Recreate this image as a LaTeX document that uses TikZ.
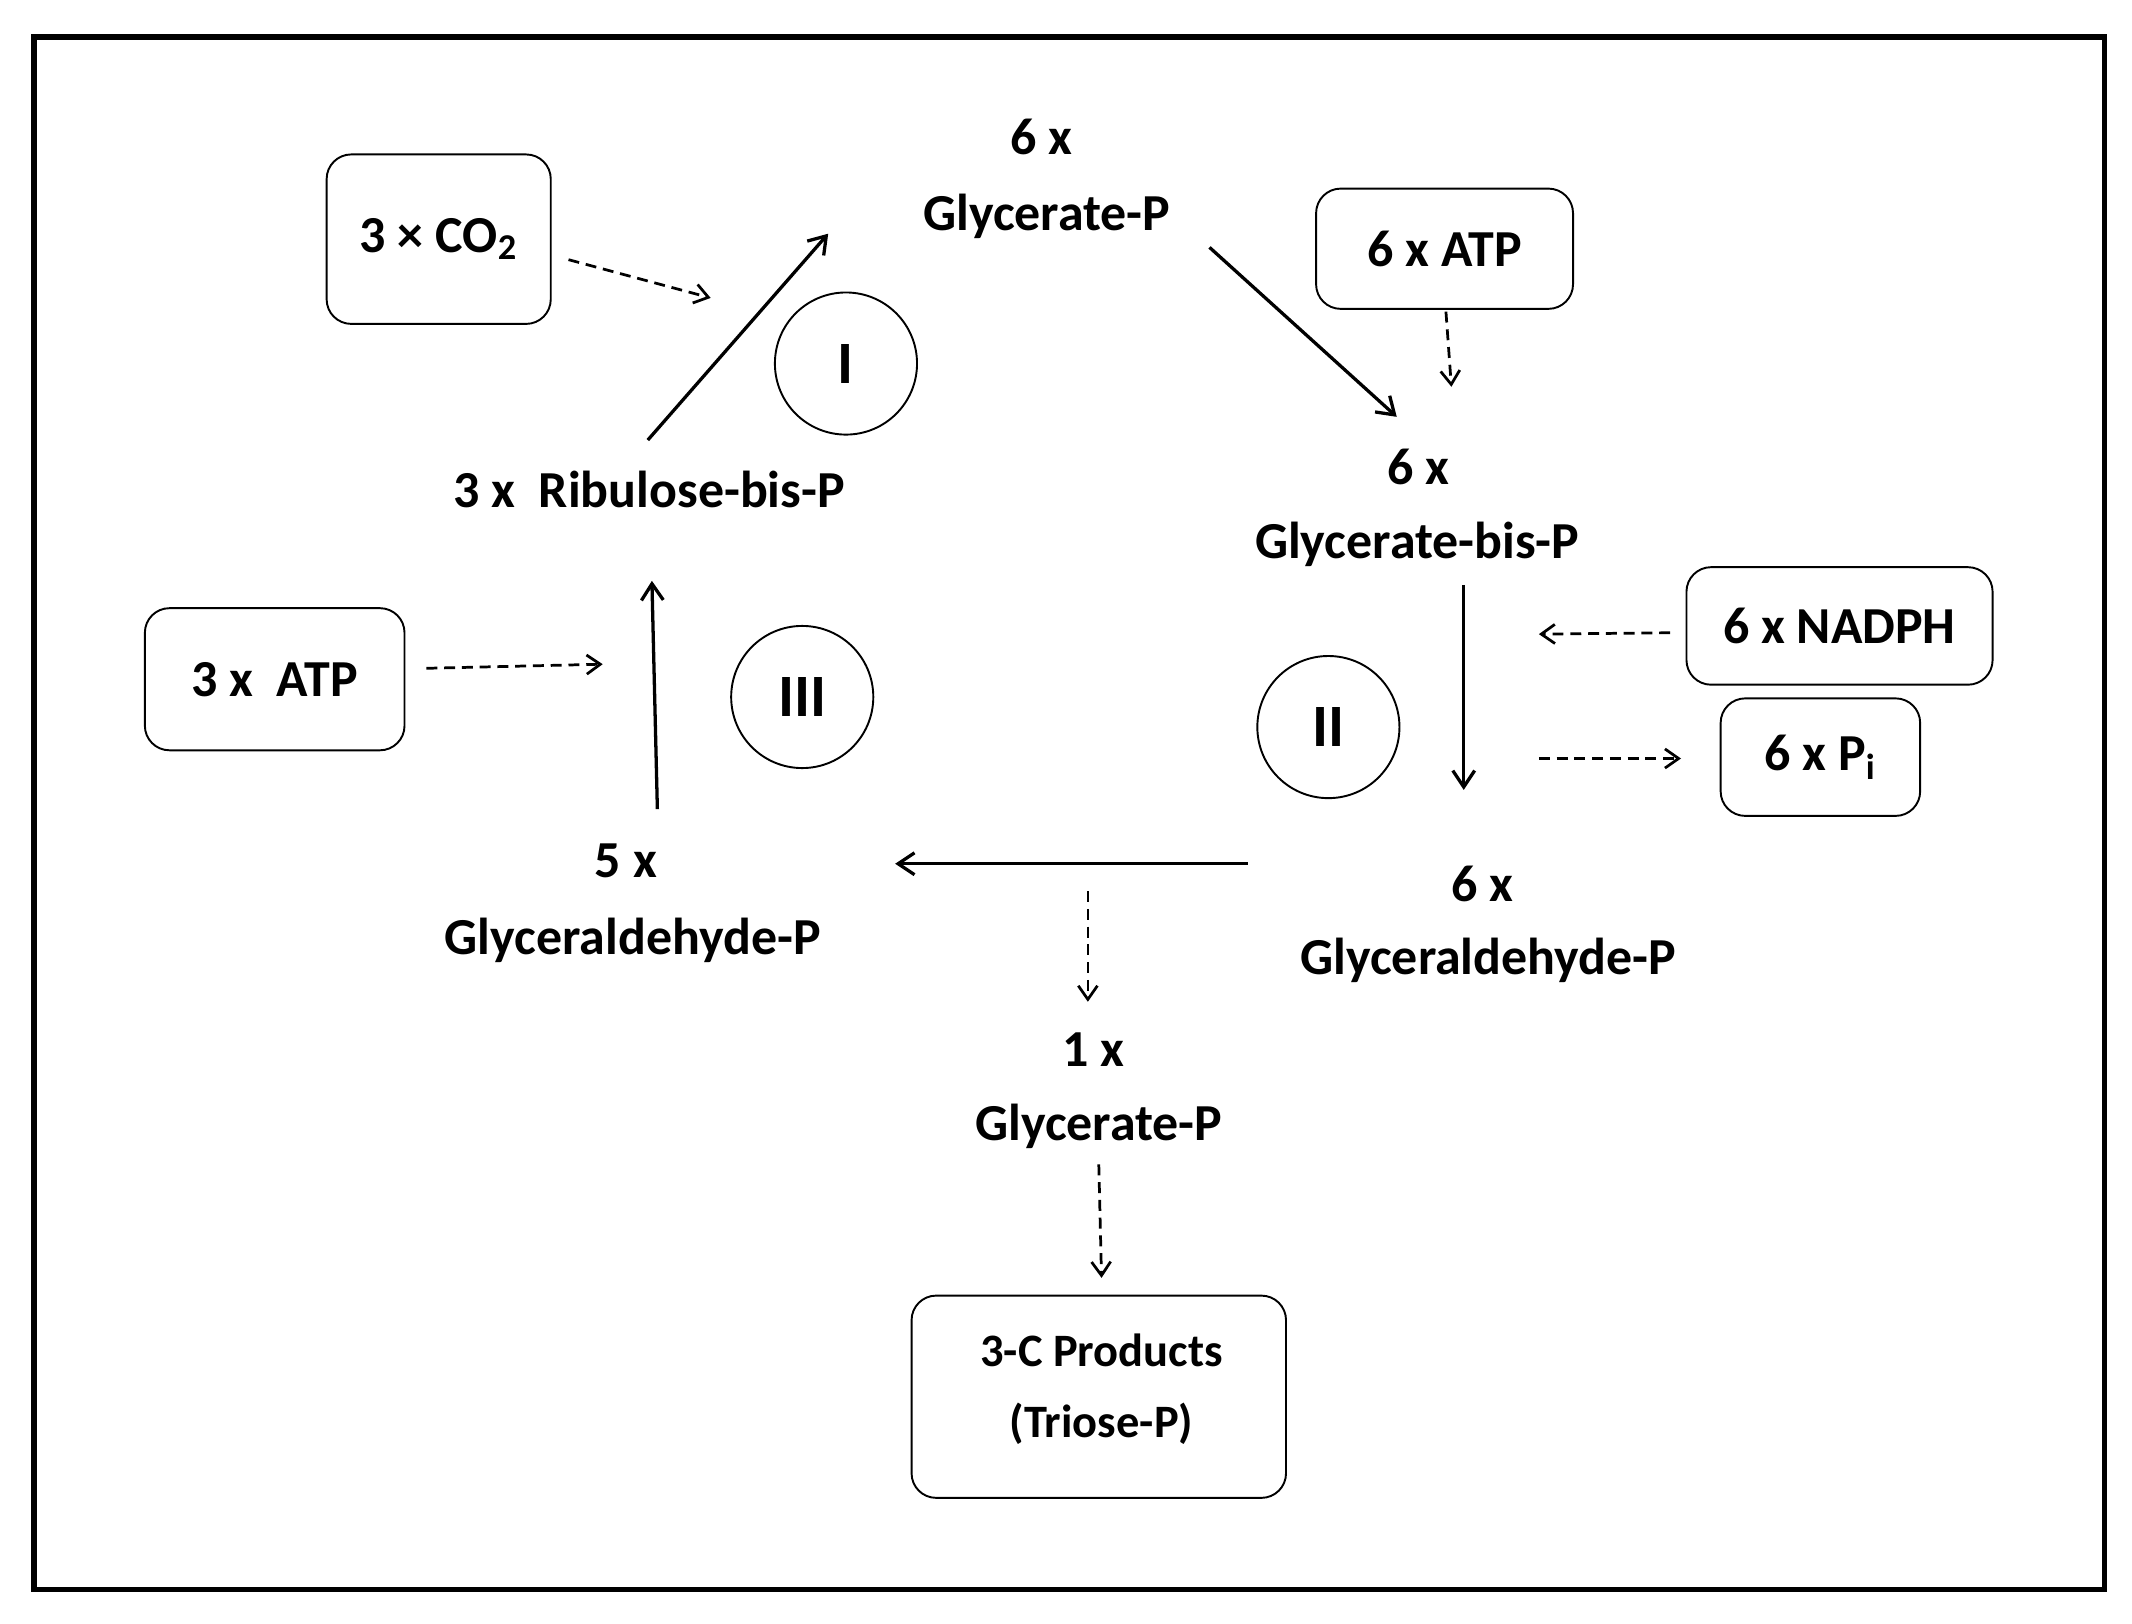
\documentclass[tikz,border=0pt]{standalone}
\usepackage{fontspec}
\setmainfont{Carlito}
\usetikzlibrary{arrows.meta}
\begin{document}
\begin{tikzpicture}[x=0.5pt,y=-0.5pt,
  lbl/.style={font=\fontsize{19}{22}\selectfont\bfseries,inner sep=0pt},
  box/.style={draw,rounded corners=9pt,line width=0.7pt,inner sep=0pt},
  circ/.style={draw,circle,line width=0.7pt,minimum size=52pt,inner sep=0pt,font=\fontsize{22}{24}\selectfont\bfseries},
  sol/.style={line width=1.2pt,-{Straight Barb[length=6pt,width=8pt]}},
  das/.style={line width=1pt,dashed,dash pattern=on 4pt off 2.5pt,-{Straight Barb[length=5pt,width=7pt]}}]
\useasboundingbox (0,0) rectangle (1560,1188);
\draw[line width=2pt] (25,27) rectangle (1540,1163);
% boxes
\node[box,minimum width=82pt,minimum height=62pt] (co2) at (321,175) {};
\node[lbl] at (321,175) {3 × CO\textsubscript{2}};
\node[box,minimum width=94pt,minimum height=44pt] (atp6) at (1057,182) {};
\node[lbl] at (1057,182) {6 x ATP};
\node[box,minimum width=112pt,minimum height=43pt] (nadph) at (1346,458) {};
\node[lbl] at (1346,458) {6 x NADPH};
\node[box,minimum width=73pt,minimum height=43pt] (pi) at (1332,554) {};
\node[lbl] at (1332,554) {6 x P\textsubscript{i}};
\node[box,minimum width=95pt,minimum height=52pt] (atp3) at (201,497) {};
\node[lbl] at (201,497) {3 x\ \ ATP};
\node[box,minimum width=137pt,minimum height=74pt] (prod) at (804,1022) {};
\node[lbl,font=\fontsize{17}{20}\selectfont\bfseries] (prodA) at (806,988) {3-C Products};
\node[lbl,font=\fontsize{17}{20}\selectfont\bfseries] (prodB) at (806,1042) {(Triose-P)};
% circles
\node[circ] (c1) at (619,266) {I};
\node[circ] (c2) at (972,532) {II};
\node[circ] (c3) at (587,510) {III};
% labels
\node[lbl] (g1) at (762,100) {6 x};
\node[lbl] (g2) at (766,158) {Glycerate-P};
\node[lbl] (rb) at (475,358) {3 x\ \ Ribulose-bis-P};
\node[lbl] (gb1) at (1038,342) {6 x};
\node[lbl] (gb2) at (1037,398) {Glycerate-bis-P};
\node[lbl] (g5a) at (458,630) {5 x};
\node[lbl] (g5b) at (463,688) {Glyceraldehyde-P};
\node[lbl] (g6a) at (1085,647) {6 x};
\node[lbl] (g6b) at (1089,703) {Glyceraldehyde-P};
\node[lbl] (g1a) at (800,768) {1 x};
\node[lbl] (g1b) at (804,824) {Glycerate-P};
% coordinates
\coordinate (a1s) at (474,322); \coordinate (a1e) at (606,171);
\coordinate (d1s) at (416,190); \coordinate (d1e) at (520,218);
\coordinate (a2s) at (885,181); \coordinate (a2e) at (1022,305);
\coordinate (d2s) at (1058,228); \coordinate (d2e) at (1062,283);
\coordinate (a3s) at (1071,428); \coordinate (a3e) at (1071,578);
\coordinate (d3s) at (1222,463); \coordinate (d3e) at (1126,464);
\coordinate (d4s) at (1126,555); \coordinate (d4e) at (1230,555);
\coordinate (a4s) at (913,632); \coordinate (a4e) at (655,632);
\coordinate (d5s) at (796,652); \coordinate (d5e) at (796,733);
\coordinate (d6s) at (804,852); \coordinate (d6e) at (806,935);
\coordinate (a5s) at (481,592); \coordinate (a5e) at (477,425);
\coordinate (d7s) at (312,489); \coordinate (d7e) at (441,486);
\draw[sol] (a1s) -- (a1e);
\draw[sol] (a2s) -- (a2e);
\draw[sol] (a3s) -- (a3e);
\draw[sol] (a4s) -- (a4e);
\draw[sol] (a5s) -- (a5e);
\draw[das] (d1s) -- (d1e);
\draw[das] (d2s) -- (d2e);
\draw[das] (d3s) -- (d3e);
\draw[das] (d4s) -- (d4e);
\draw[das] (d5s) -- (d5e);
\draw[das] (d6s) -- (d6e);
\draw[das] (d7s) -- (d7e);
\end{tikzpicture}
\end{document}
